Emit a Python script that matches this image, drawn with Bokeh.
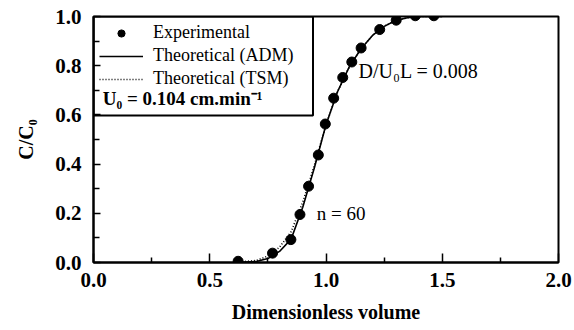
from bokeh.plotting import figure
from bokeh.models import Range1d, Label, BoxAnnotation, Legend, LegendItem, FixedTicker
from bokeh.embed import file_html
from bokeh.resources import INLINE

# Experimental points (dimensionless volume, C/C0)
exp_x = [0.622, 0.770, 0.849, 0.888, 0.925, 0.967, 0.997, 1.033, 1.072, 1.111, 1.151, 1.231, 1.302, 1.384, 1.464]
exp_y = [0.005, 0.038, 0.093, 0.195, 0.310, 0.437, 0.563, 0.668, 0.752, 0.815, 0.872, 0.947, 0.985, 1.003, 1.003]

# Theoretical curves
adm_x = [0.60, 0.70, 0.75, 0.80, 0.85, 0.90, 0.95, 1.00, 1.05, 1.10, 1.15, 1.20, 1.25, 1.30, 1.35, 1.40, 1.50]
adm_y = [0.000, 0.004, 0.016, 0.045, 0.095, 0.225, 0.385, 0.560, 0.695, 0.795, 0.868, 0.923, 0.960, 0.984, 0.995, 1.000, 1.000]
tsm_x = [0.60, 0.70, 0.75, 0.80, 0.85, 0.90, 0.95, 1.00, 1.05, 1.10, 1.15, 1.20, 1.25, 1.30, 1.35, 1.40, 1.50]
tsm_y = [0.000, 0.008, 0.026, 0.062, 0.125, 0.245, 0.395, 0.560, 0.695, 0.795, 0.868, 0.923, 0.960, 0.984, 0.995, 1.000, 1.000]

x_ticks = [0.0, 0.5, 1.0, 1.5, 2.0]
y_ticks = [0.0, 0.2, 0.4, 0.6, 0.8, 1.0]

SERIF = "Liberation Serif"

p = figure(width=574, height=330, output_backend="svg", toolbar_location=None,
           x_range=Range1d(0, 2), y_range=Range1d(0, 1),
           min_border_left=93, min_border_right=16, min_border_top=16, min_border_bottom=68)
p.grid.visible = False
p.background_fill_color = "white"
p.border_fill_color = "white"
p.outline_line_color = "black"
p.outline_line_width = 2
p.outline_line_alpha = 1

for ax in (p.xaxis[0], p.yaxis[0]):
    ax.axis_line_width = 2
    ax.axis_line_color = "black"
    ax.major_tick_out = 0
    ax.minor_tick_out = 0
    ax.major_tick_line_width = 1.5
    ax.minor_tick_line_width = 1.5
    ax.major_label_text_font = SERIF
    ax.major_label_text_font_style = "bold"
    ax.major_label_text_font_size = "21px"
    ax.major_label_text_color = "black"
    ax.axis_label_text_font = SERIF
    ax.axis_label_text_font_style = "bold"
    ax.axis_label_text_font_size = "20px"
    ax.axis_label_text_color = "black"

p.xaxis[0].ticker = FixedTicker(ticks=x_ticks, minor_ticks=[0.25, 0.75, 1.25, 1.75])
p.yaxis[0].ticker = FixedTicker(ticks=y_ticks, minor_ticks=[0.1, 0.3, 0.5, 0.7, 0.9])
p.xaxis[0].major_label_overrides = {t: f"{t:.1f}" for t in x_ticks}
p.yaxis[0].major_label_overrides = {t: f"{t:.1f}" for t in y_ticks}
p.xaxis[0].major_tick_in = 9
p.xaxis[0].minor_tick_in = 5
p.yaxis[0].major_tick_in = 7
p.yaxis[0].minor_tick_in = 6
p.xaxis[0].major_label_standoff = 10
p.yaxis[0].major_label_standoff = 12
p.xaxis[0].axis_label = "Dimensionless volume"
p.xaxis[0].axis_label_standoff = 11
p.yaxis[0].axis_label = "C/C\u2080"
p.yaxis[0].axis_label_standoff = 15

adm = p.line(adm_x, adm_y, line_color="black", line_width=1.6)
tsm = p.line(tsm_x, tsm_y, line_color="black", line_width=1.6, line_dash="1 2")
pts = p.scatter(exp_x, exp_y, size=10, marker="circle", fill_color="black", line_color="black")

# legend box
box = BoxAnnotation(left=0, right=0.944, bottom=0.598, top=1.0,
                    fill_alpha=0, line_color="black", line_width=2, line_alpha=1)
p.add_layout(box)

legend = Legend(items=[LegendItem(label="Experimental", renderers=[pts]),
                       LegendItem(label="Theoretical (ADM)", renderers=[adm]),
                       LegendItem(label="Theoretical (TSM)", renderers=[tsm])],
                location="top_left", border_line_alpha=0, background_fill_alpha=0,
                label_text_font=SERIF, label_text_font_size="18px", label_text_color="black",
                glyph_width=44, glyph_height=18, label_height=18, spacing=2, padding=6, margin=0,
                label_standoff=10)
p.add_layout(legend, "center")

p.add_layout(Label(x=0.04, y=0.667, text="U\u2080 = 0.104 cm.min\u207b\u00b9",
                   text_font=SERIF, text_font_style="bold", text_font_size="19px",
                   text_color="black", text_baseline="middle"))
p.add_layout(Label(x=1.14, y=0.78, text="D/U\u2080L = 0.008",
                   text_font=SERIF, text_font_size="20px", text_color="black",
                   text_baseline="middle"))
p.add_layout(Label(x=0.96, y=0.2, text="n = 60",
                   text_font=SERIF, text_font_size="19px", text_color="black",
                   text_baseline="middle"))

open("out.html", "w").write(file_html(p, INLINE))
